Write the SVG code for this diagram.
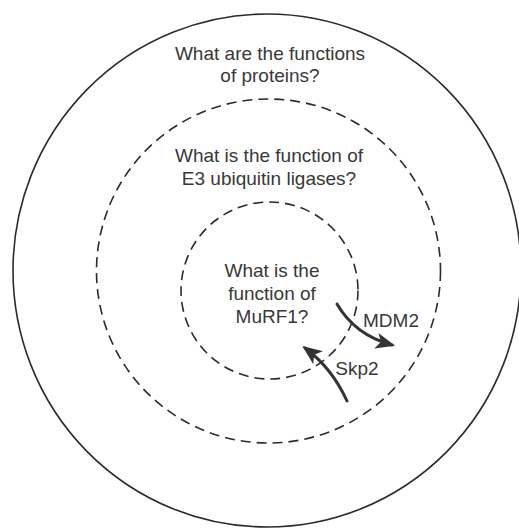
<svg xmlns="http://www.w3.org/2000/svg" width="519" height="529" viewBox="0 0 519 529">
  <defs>
    <style>
      .ring { fill: none; stroke: #2b2b2b; stroke-width: 1.6; }
      .dash { stroke-dasharray: 10 6; }
      .lbl { font-family: "Liberation Sans", Arial, sans-serif; font-size: 19px; fill: #383838; text-anchor: middle; }
      .arrow { fill: none; stroke: #333; stroke-width: 3; stroke-linecap: round; }
    </style>
    <marker id="head" viewBox="0 0 12 10" refX="10" refY="5" markerWidth="6.5" markerHeight="6.5" orient="auto" markerUnits="strokeWidth">
      <path d="M0,0 L12,5 L0,10 L3,5 Z" fill="#333"/>
    </marker>
  </defs>
  <rect width="519" height="529" fill="#fff"/>

  <g id="proteins">
    <ellipse class="ring" cx="267" cy="270.5" rx="254" ry="256.5"/>
    <text class="lbl" x="270" y="60">What are the functions</text>
    <text class="lbl" x="270" y="82">of proteins?</text>
  </g>

  <g id="e3-ligases">
    <circle class="ring dash" cx="268.5" cy="271" r="172"/>
    <text class="lbl" x="269" y="162">What is the function of</text>
    <text class="lbl" x="269" y="185">E3 ubiquitin ligases?</text>
  </g>

  <g id="murf1">
    <circle class="ring dash" cx="269.5" cy="290.5" r="88.5"/>
    <text class="lbl" x="272" y="277">What is the</text>
    <text class="lbl" x="272" y="300">function of</text>
    <text class="lbl" x="272" y="323">MuRF1?</text>
  </g>

  <g id="connectors">
    <path class="arrow" d="M337,304 Q355,335 392,345" marker-end="url(#head)"/>
    <path class="arrow" d="M347,401 Q332,368 305,348" marker-end="url(#head)"/>
    <text class="lbl" x="391" y="327">MDM2</text>
    <text class="lbl" x="357" y="375">Skp2</text>
  </g>
</svg>
